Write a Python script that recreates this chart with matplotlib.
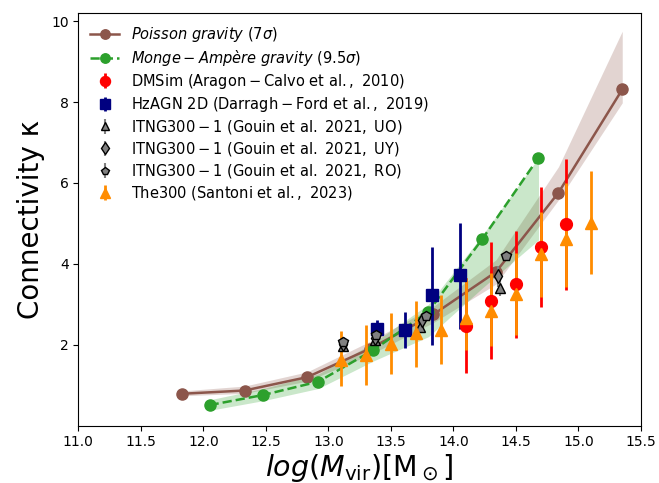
import numpy as np
import matplotlib
matplotlib.use("Agg")
import matplotlib.pyplot as plt

# Poisson gravity (model, with band)
poisson_x = [11.83, 12.33, 12.83, 13.33, 13.84, 14.34, 14.84, 15.35]
poisson_y = [0.79, 0.87, 1.20, 1.90, 2.75, 3.80, 5.76, 8.31]
poisson_lo = [0.74, 0.80, 1.10, 1.75, 2.55, 3.50, 5.58, 7.98]
poisson_hi = [0.86, 0.98, 1.33, 2.08, 2.95, 4.10, 6.40, 9.75]

# Monge-Ampere gravity (model, with band)
monge_x = [12.05, 12.48, 12.92, 13.36, 13.80, 14.23, 14.68]
monge_y = [0.51, 0.76, 1.09, 1.87, 2.82, 4.61, 6.62]
monge_lo = [0.38, 0.62, 0.92, 1.60, 2.20, 3.40, 4.59]
monge_hi = [0.64, 0.92, 1.28, 2.05, 3.00, 4.70, 6.62]

# DMSim (Aragon-Calvo et al. 2010)
dmsim_x = [14.1, 14.3, 14.5, 14.7, 14.9]
dmsim_y = [2.47, 3.09, 3.50, 4.42, 4.98]
dmsim_lo = [1.31, 1.65, 2.17, 2.93, 3.36]
dmsim_hi = [3.65, 4.53, 4.82, 5.91, 6.58]

# HzAGN 2D (Darragh-Ford et al. 2019)
hz_x = [13.39, 13.61, 13.83, 14.05]
hz_y = [2.40, 2.37, 3.22, 3.72]
hz_lo = [2.15, 1.92, 2.00, 2.39]
hz_hi = [2.62, 2.82, 4.41, 5.02]

# ITNG300-1 (Gouin et al. 2021)
uo_x = [13.12, 13.37, 13.73, 14.37]
uo_y = [1.97, 2.12, 2.45, 3.40]
uo_err = [0.08, 0.08, 0.10, 0.20]
uy_x = [13.12, 13.37, 13.75, 14.36]
uy_y = [2.02, 2.18, 2.62, 3.69]
uy_err = [0.08, 0.08, 0.12, 0.25]
ro_x = [13.12, 13.38, 13.78, 14.42]
ro_y = [2.08, 2.25, 2.72, 4.20]
ro_err = [0.08, 0.08, 0.10, 0.12]

# The300 (Santoni et al. 2023)
the300_x = [13.1, 13.3, 13.5, 13.7, 13.9, 14.1, 14.3, 14.5, 14.7, 14.9, 15.1]
the300_y = [1.63, 1.75, 2.02, 2.29, 2.37, 2.67, 2.84, 3.25, 4.24, 4.61, 5.02]
the300_lo = [0.97, 1.00, 1.28, 1.46, 1.53, 1.88, 1.96, 2.25, 3.19, 3.44, 3.75]
the300_hi = [2.33, 2.48, 2.78, 3.07, 3.23, 3.65, 3.77, 4.26, 5.27, 6.01, 6.30]

x_ticks = [11.0, 11.5, 12.0, 12.5, 13.0, 13.5, 14.0, 14.5, 15.0, 15.5]
y_ticks = [2, 4, 6, 8, 10]


def asym(y, lo, hi):
    y = np.array(y)
    return [y - np.array(lo), np.array(hi) - y]


fig = plt.figure(figsize=(6.59, 4.83), dpi=100)
ax = fig.add_axes([0.1188, 0.1186, 0.8539, 0.8545])

brown = '#8c564b'
green = '#2ca02c'

ax.fill_between(poisson_x, poisson_lo, poisson_hi, color=brown, alpha=0.25, lw=0)
ax.plot(poisson_x, poisson_y, '-o', color=brown, lw=1.8, ms=8,
        label=r'$Poisson\ gravity$ $(7\sigma)$')

ax.fill_between(monge_x, monge_lo, monge_hi, color=green, alpha=0.25, lw=0)
ax.plot(monge_x, monge_y, '--o', color=green, lw=1.8, ms=8,
        label=r'$Monge-Ampère\ gravity$ $(9.5\sigma)$')

ax.errorbar(dmsim_x, dmsim_y, yerr=asym(dmsim_y, dmsim_lo, dmsim_hi), fmt='o',
            color='red', ms=8.5, elinewidth=2,
            label=r'$\mathrm{DMSim\ (Aragon-Calvo\ et\ al.,\ 2010)}$')

ax.errorbar(hz_x, hz_y, yerr=asym(hz_y, hz_lo, hz_hi), fmt='s',
            color='navy', ms=8, elinewidth=2,
            label=r'$\mathrm{HzAGN\ 2D\ (Darragh-Ford\ et\ al.,\ 2019)}$')

ax.errorbar(uo_x, uo_y, yerr=uo_err, fmt='^', color='gray', mec='black',
            ms=7, elinewidth=1.5,
            label=r'$\mathrm{ITNG300-1\ (Gouin\ et\ al.\ 2021,\ UO)}$')
ax.errorbar(uy_x, uy_y, yerr=uy_err, fmt='d', color='gray', mec='black',
            ms=7, elinewidth=1.5,
            label=r'$\mathrm{ITNG300-1\ (Gouin\ et\ al.\ 2021,\ UY)}$')
ax.errorbar(ro_x, ro_y, yerr=ro_err, fmt='p', color='gray', mec='black',
            ms=7, elinewidth=1.5,
            label=r'$\mathrm{ITNG300-1\ (Gouin\ et\ al.\ 2021,\ RO)}$')

ax.errorbar(the300_x, the300_y, yerr=asym(the300_y, the300_lo, the300_hi), fmt='^',
            color='darkorange', ms=9, elinewidth=2,
            label=r'$\mathrm{The300\ (Santoni\ et\ al.,\ 2023)}$')

ax.set_xlim(11.0, 15.5)
ax.set_ylim(0, 10.2)
ax.set_xticks(x_ticks)
ax.set_yticks(y_ticks)
ax.tick_params(labelsize=10)

ax.set_xlabel(r'$log(M_{\rm vir}) [\rm M_\odot]$', fontsize=20.5, labelpad=2)
ax.set_ylabel('Connectivity κ', fontsize=20)

ax.legend(loc='upper left', frameon=False, fontsize=10.5, labelspacing=0.28,
          markerscale=0.85, borderaxespad=0.4)

fig.savefig('out.png', dpi=100)
